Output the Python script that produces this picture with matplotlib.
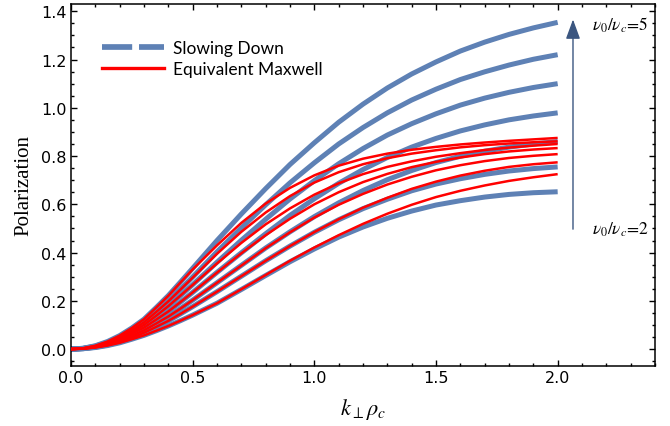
import matplotlib
matplotlib.use("Agg")
import matplotlib.pyplot as plt
from matplotlib.lines import Line2D
from matplotlib.ticker import MultipleLocator, FormatStrFormatter

# k_perp * rho_c sample positions
k_rho = [0.0, 0.05, 0.1, 0.15, 0.2, 0.25, 0.3, 0.35, 0.4, 0.45, 0.5,
         0.6, 0.7, 0.8, 0.9, 1.0, 1.1, 1.2, 1.3, 1.4, 1.5, 1.6, 1.7, 1.8, 1.9, 2.0]

# Slowing-down distribution, nu0/nuc = 2 ... 5 (bottom to top)
sd_2 = [0, .0016, .0065, .0146, .026, .041, .057, .076, .096, .118, .141,
        .190, .247, .305, .362, .415, .464, .506, .542, .572, .597, .615, .630, .641, .648, .652]
sd_25 = [0, .0019, .0076, .0168, .030, .047, .068, .092, .117, .146, .176,
         .238, .302, .366, .427, .484, .536, .582, .621, .656, .684, .706, .724, .738, .748, .755]
sd_3 = [0, .0022, .0088, .0197, .035, .055, .078, .106, .135, .168, .203,
        .275, .347, .419, .486, .549, .606, .657, .702, .740, .773, .799, .820, .837, .850, .860]
sd_35 = [0, .0025, .010, .0225, .040, .063, .089, .122, .156, .195, .235,
         .318, .399, .478, .554, .623, .687, .744, .794, .837, .873, .904, .929, .950, .966, .979]
sd_4 = [0, .0028, .011, .025, .045, .070, .100, .138, .178, .222, .267,
        .360, .451, .538, .622, .698, .768, .831, .887, .934, .975, 1.011, 1.040, 1.064, 1.084, 1.100]
sd_45 = [0, .0031, .0125, .028, .050, .078, .111, .154, .199, .248, .299,
         .403, .502, .598, .689, .772, .850, .918, .979, 1.032, 1.077, 1.117, 1.149, 1.177, 1.201, 1.220]
sd_5 = [0, .0035, .014, .0315, .056, .0875, .124, .172, .222, .278, .335,
        .450, .560, .665, .765, .855, .940, 1.015, 1.082, 1.140, 1.190, 1.235, 1.272, 1.304, 1.331, 1.354]

# Equivalent Maxwellian curves, same ordering
mx_2 = [0, .0016, .0065, .0146, .026, .041, .057, .076, .096, .118, .141,
        .190, .248, .307, .366, .421, .472, .519, .561, .598, .630, .656, .678, .697, .712, .725]
mx_25 = [0, .0019, .0076, .0168, .030, .047, .068, .092, .117, .146, .176,
         .238, .302, .366, .427, .485, .538, .586, .627, .664, .694, .719, .739, .755, .766, .774]
mx_3 = [0, .0022, .0088, .0197, .035, .055, .078, .106, .135, .168, .203,
        .275, .346, .418, .484, .545, .598, .643, .682, .714, .741, .762, .779, .792, .801, .808]
mx_35 = [0, .0025, .010, .0225, .040, .063, .089, .122, .156, .195, .235,
         .317, .397, .472, .540, .600, .650, .692, .726, .754, .776, .794, .808, .819, .827, .833]
mx_4 = [0, .0028, .011, .025, .045, .070, .100, .138, .178, .222, .266,
        .355, .440, .517, .583, .640, .687, .725, .755, .778, .797, .812, .825, .835, .843, .850]
mx_45 = [0, .0031, .0125, .028, .050, .078, .111, .154, .198, .247, .296,
         .395, .486, .566, .634, .690, .733, .766, .791, .810, .824, .836, .845, .852, .857, .861]
mx_5 = [0, .0035, .014, .0315, .056, .0875, .124, .172, .221, .276, .330,
        .430, .523, .603, .668, .720, .760, .789, .810, .826, .838, .848, .856, .863, .869, .875]

slowing_down = [sd_2, sd_25, sd_3, sd_35, sd_4, sd_45, sd_5]
maxwell = [mx_2, mx_25, mx_3, mx_35, mx_4, mx_45, mx_5]

legend_labels = ["Slowing Down", "Equivalent Maxwell"]
label_low = r"$\nu_0/\nu_c\!=\!2$"
label_high = r"$\nu_0/\nu_c\!=\!5$"

BLUE = "#5E81B5"
RED = "#FF0000"
ARROW = "#3B5680"

plt.rcParams["mathtext.fontset"] = "stix"

fig = plt.figure(figsize=(6.70, 4.27), dpi=100)
ax = fig.add_axes([71 / 670, 1 - 367 / 427, (655 - 71) / 670, (367 - 5) / 427])

for ys in slowing_down:
    ax.plot(k_rho, ys, color=BLUE, lw=3.6, solid_capstyle="butt",
            solid_joinstyle="round", zorder=2)
for ys in maxwell:
    ax.plot(k_rho, ys, color=RED, lw=1.8, solid_capstyle="butt",
            solid_joinstyle="round", zorder=3)

ax.set_xlim(0, 2.4)
ax.set_ylim(-0.07, 1.43)
ax.xaxis.set_major_locator(MultipleLocator(0.5))
ax.xaxis.set_minor_locator(MultipleLocator(0.1))
ax.yaxis.set_major_locator(MultipleLocator(0.2))
ax.yaxis.set_minor_locator(MultipleLocator(0.05))
ax.xaxis.set_major_formatter(FormatStrFormatter("%.1f"))
ax.yaxis.set_major_formatter(FormatStrFormatter("%.1f"))

ax.tick_params(which="both", direction="in", top=True, right=True,
               color="black", width=1.0)
ax.tick_params(which="major", length=4, labelsize=11.5, pad=3)
ax.tick_params(which="minor", length=2)
for lab in ax.get_xticklabels() + ax.get_yticklabels():
    lab.set_family("DejaVu Sans")
for sp in ax.spines.values():
    sp.set_linewidth(1.1)

ax.set_xlabel(r"$k_{\perp}\rho_c$", fontsize=16, labelpad=8)
ax.set_ylabel("Polarization", fontsize=15, family="Liberation Serif", labelpad=6)

handles = [
    Line2D([], [], color=BLUE, lw=4.1, linestyle=(0, (5.3, 1.2))),
    Line2D([], [], color=RED, lw=2.4),
]
leg = ax.legend(handles, legend_labels, loc="upper left",
                bbox_to_anchor=(0.038, 0.924), frameon=False, borderpad=0,
                handlelength=3.6, handletextpad=0.5, labelspacing=0.3,
                prop={"family": "Lato", "size": 12.5})

ax.annotate("", xy=(2.063, 1.366), xytext=(2.063, 0.497),
            arrowprops=dict(arrowstyle="-|>,head_length=0.6,head_width=0.22",
                            color=ARROW, lw=1.0, mutation_scale=20,
                            shrinkA=0, shrinkB=0))
ax.text(2.143, 1.345, label_high, fontsize=12.5, ha="left", va="center")
ax.text(2.143, 0.497, label_low, fontsize=12.5, ha="left", va="center")

fig.savefig("out.png", dpi=100)
